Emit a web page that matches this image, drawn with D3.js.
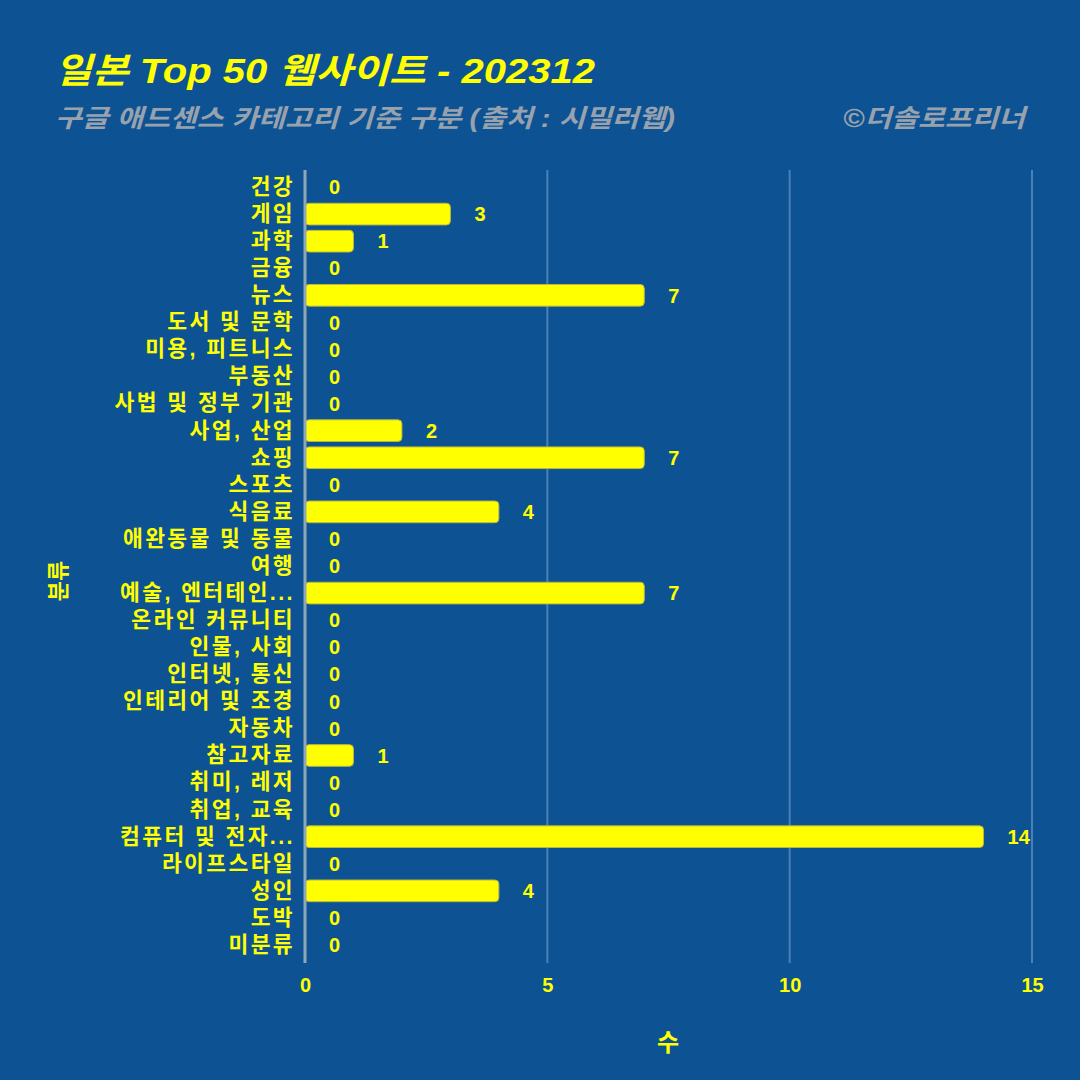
<!DOCTYPE html>
<html><head><meta charset="utf-8">
<script src="https://cdn.jsdelivr.net/npm/d3@7"></script>
<style>html,body{margin:0;padding:0;background:#0D5293;}</style>
</head><body><svg id="c" width="1080" height="1080"></svg>
<script>
const categories = ["건강","게임","과학","금융","뉴스","도서 및 문학","미용, 피트니스","부동산","사법 및 정부 기관","사업, 산업","쇼핑","스포츠","식음료","애완동물 및 동물","여행","예술, 엔터테인...","온라인 커뮤니티","인물, 사회","인터넷, 통신","인테리어 및 조경","자동차","참고자료","취미, 레저","취업, 교육","컴퓨터 및 전자...","라이프스타일","성인","도박","미분류"];
const counts = [0,3,1,0,7,0,0,0,0,2,7,0,4,0,0,7,0,0,0,0,0,1,0,0,14,0,4,0,0];
const xTicks = [0,5,10,15];
const titleText = "일본 Top 50 웹사이트 - 202312";
const subtitleText = "구글 애드센스 카테고리 기준 구분 (출처 : 시밀러웹)";
const creditText = "©더솔로프리너";
const xTitle = "수", yTitle = "분류";

const font = "'Liberation Sans','Noto Sans CJK KR',sans-serif";
const svg = d3.select("#c");
svg.append("rect").attr("width",1080).attr("height",1080).attr("fill","#0D5293");

const x = d3.scaleLinear().domain([0,15]).range([305,1032]);
const y = d3.scaleBand().domain(categories).range([173.5,958.5]).paddingInner(0.2).paddingOuter(0.1);

// grid
svg.append("g").selectAll("line").data(xTicks.filter(d=>d>0)).join("line")
  .attr("x1",d=>x(d)).attr("x2",d=>x(d)).attr("y1",170).attr("y2",963)
  .attr("stroke","#4C80B8").attr("stroke-width",2);

// bars
svg.append("g").selectAll("rect").data(categories).join("rect")
  .attr("x",x(0)).attr("y",c=>y(c)).attr("height",y.bandwidth())
  .attr("width",(c,i)=>Math.max(0,x(counts[i])-x(0)))
  .attr("rx",4).attr("fill","#FFFF00").attr("stroke","#B8B840").attr("stroke-width",1);

// axis line
svg.append("line").attr("x1",x(0)).attr("x2",x(0)).attr("y1",170).attr("y2",963)
  .attr("stroke","#8FA8B8").attr("stroke-width",3);

// category labels
const yAxis = d3.axisLeft(y).tickSize(0).tickPadding(10);
const ga = svg.append("g").attr("transform",`translate(${x(0)},0)`).call(yAxis);
ga.select(".domain").remove();
ga.selectAll("text").attr("fill","#FFFF00").attr("font-family",font).attr("font-weight","bold")
  .attr("font-size",21.5).attr("letter-spacing","2.4px");

// value labels
svg.append("g").selectAll("text").data(categories).join("text")
  .attr("x",(c,i)=>x(counts[i])+24).attr("y",c=>y(c)+y.bandwidth()/2)
  .attr("dy","0.36em").attr("fill","#FFFF00").attr("font-family",font)
  .attr("font-weight","bold").attr("font-size",20).text((c,i)=>counts[i]);

// x axis
const xAxis = d3.axisBottom(x).tickValues(xTicks).tickSize(0).tickPadding(14);
const gx = svg.append("g").attr("transform","translate(0,964)").call(xAxis);
gx.select(".domain").remove();
gx.selectAll("text").attr("fill","#FFFF00").attr("font-family",font).attr("font-weight","bold").attr("font-size",20);

// titles
svg.append("text").attr("x",668).attr("y",1051).attr("text-anchor","middle")
  .attr("fill","#FFFF00").attr("font-family",font).attr("font-weight","bold").attr("font-size",24).text(xTitle);
svg.append("text").attr("transform","translate(66,581) rotate(-90)").attr("text-anchor","middle")
  .attr("fill","#FFFF00").attr("font-family",font).attr("font-weight","bold").attr("font-size",22).text(yTitle);

svg.append("text").attr("x",55).attr("y",83).attr("fill","#FFFF00").attr("font-family",font)
  .attr("font-weight","bold").attr("font-style","italic").attr("font-size",35)
  .attr("textLength",540).attr("lengthAdjust","spacingAndGlyphs").text(titleText);
svg.append("text").attr("x",55).attr("y",127).attr("fill","#98A2AE").attr("font-family",font)
  .attr("font-weight","bold").attr("font-style","italic").attr("font-size",25)
  .attr("textLength",620).attr("lengthAdjust","spacingAndGlyphs").text(subtitleText);
svg.append("text").attr("x",843).attr("y",127).attr("fill","#98A2AE").attr("font-family",font)
  .attr("font-weight","bold").attr("font-style","italic").attr("font-size",25)
  .attr("textLength",182).attr("lengthAdjust","spacingAndGlyphs").text(creditText);
</script></body></html>
